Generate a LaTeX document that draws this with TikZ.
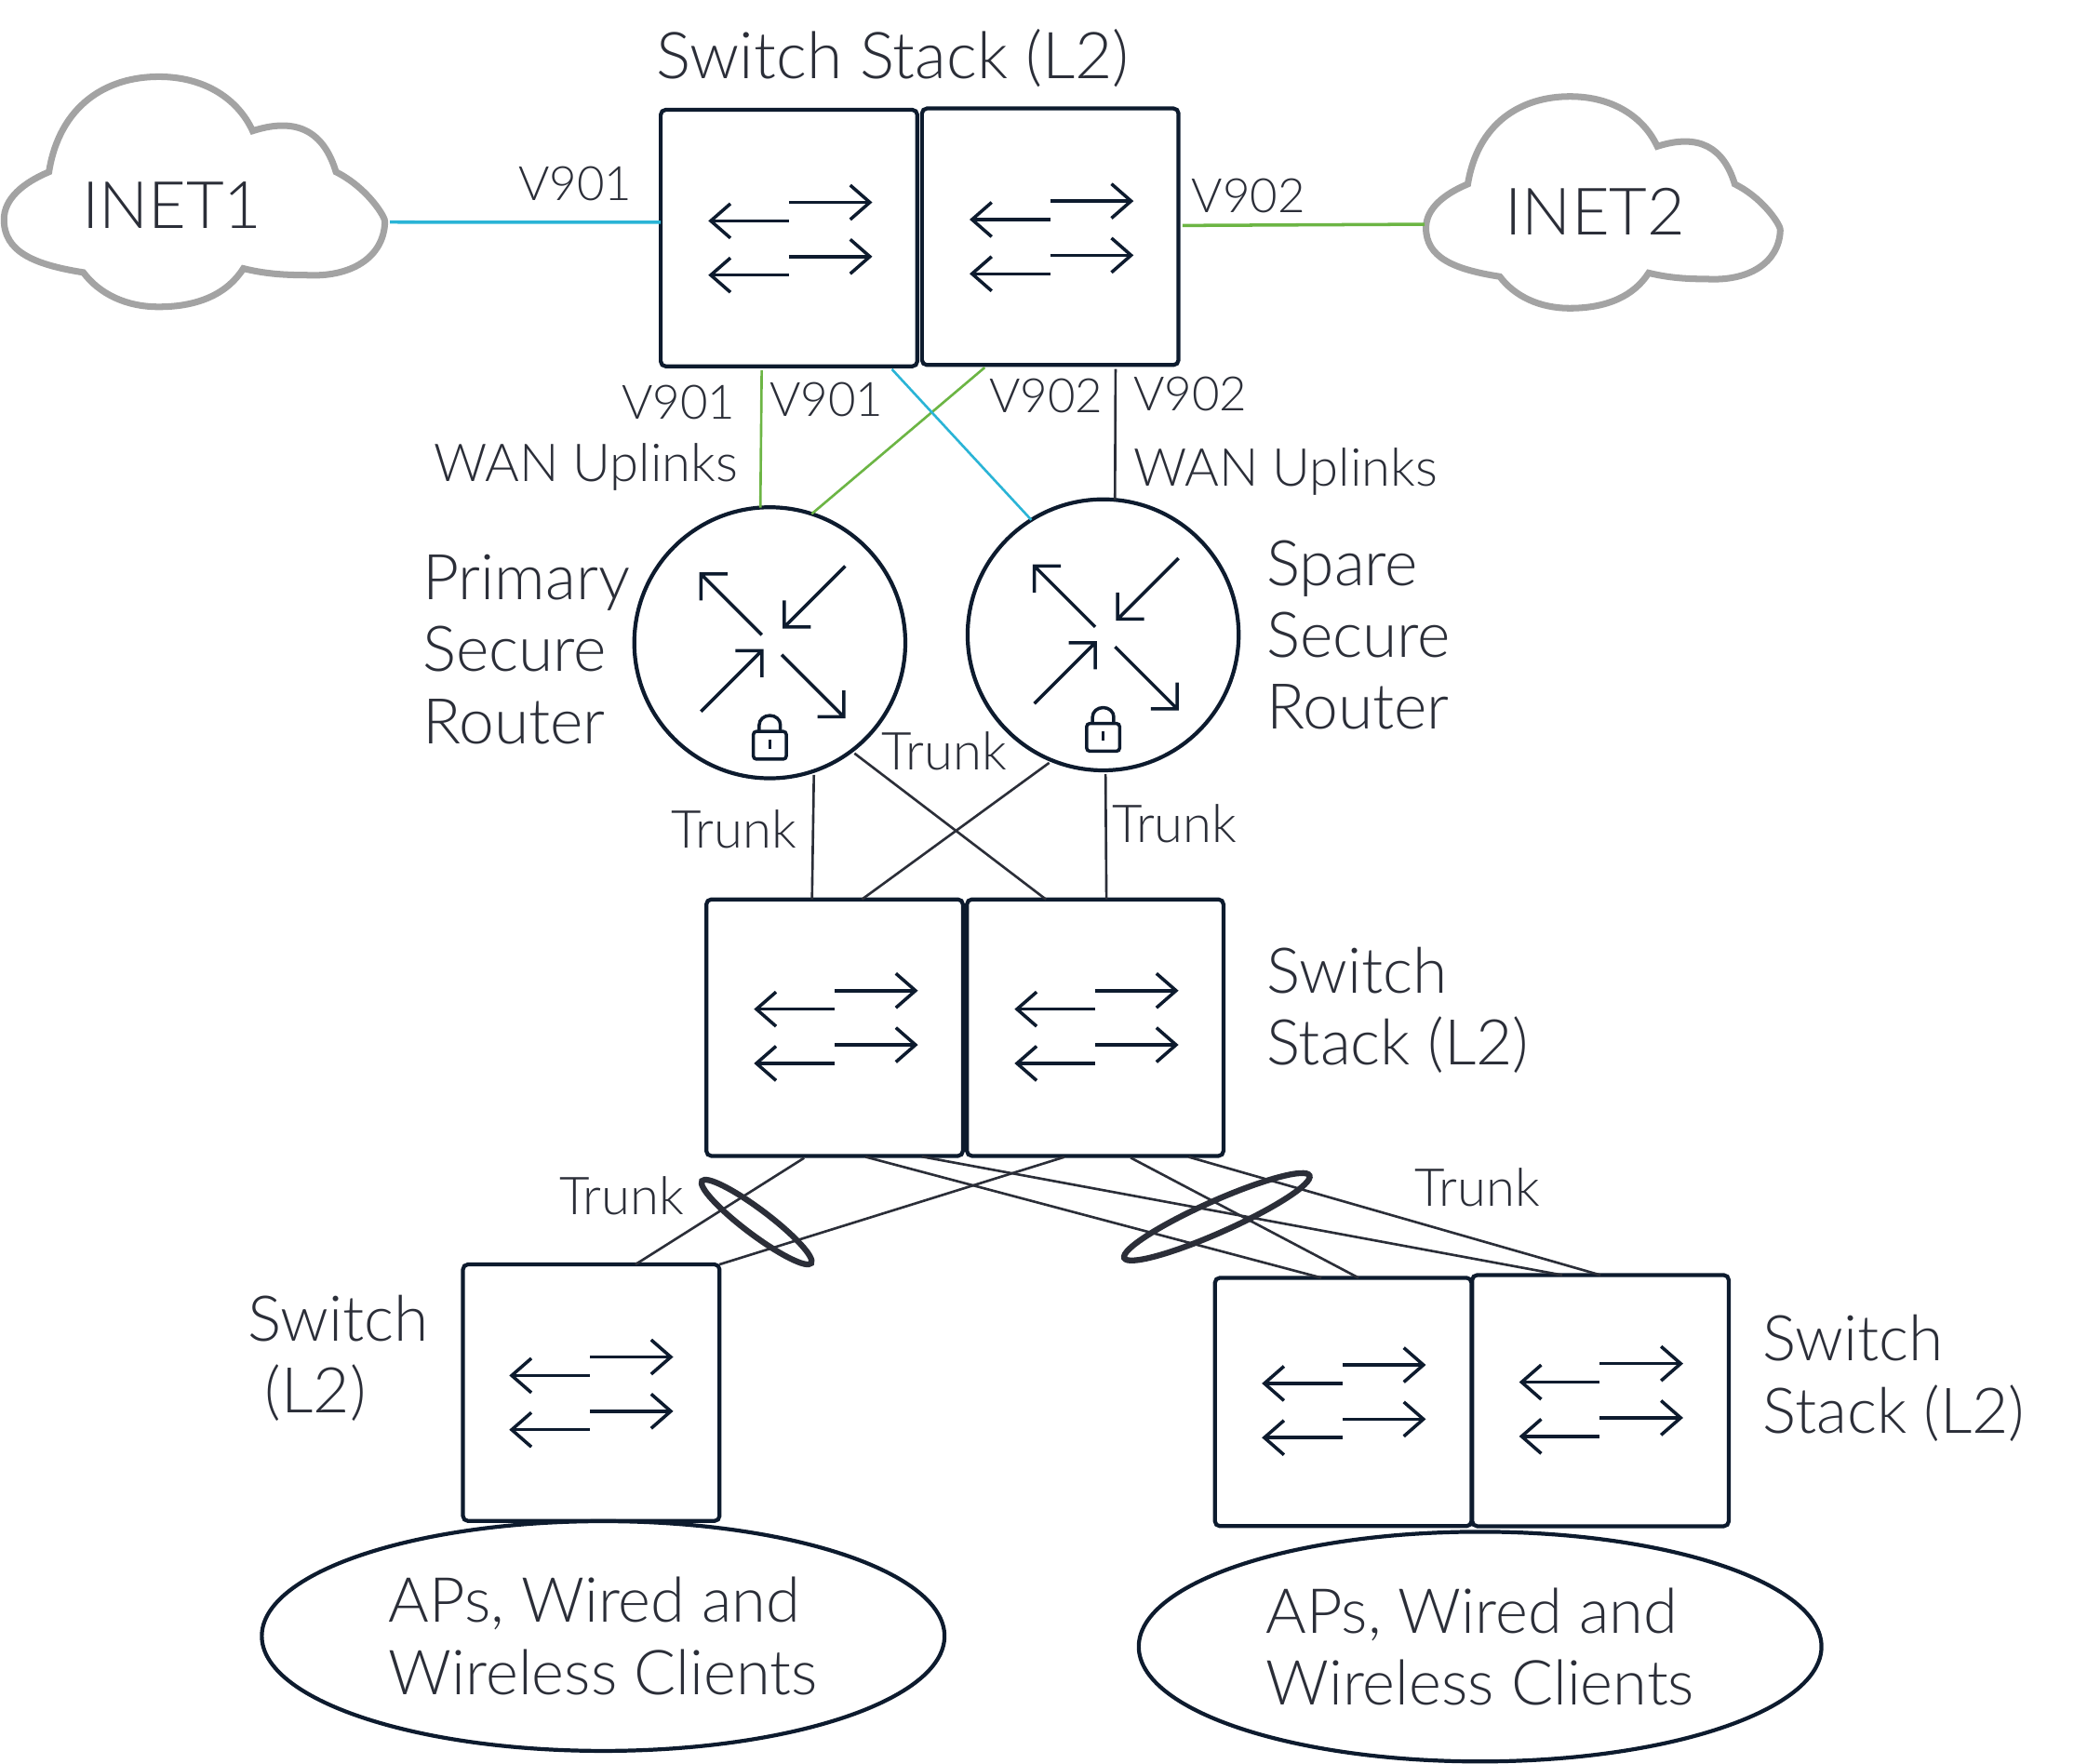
\documentclass[tikz,border=0pt]{standalone}
\usepackage{fontspec}
\setmainfont{Lato}[UprightFont=* Light]
\usetikzlibrary{arrows.meta,shapes.geometric}
\definecolor{navy}{HTML}{0D1B2E}
\definecolor{inkgrey}{HTML}{2B2E38}
\definecolor{linkblue}{HTML}{2AB4D6}
\definecolor{linkgreen}{HTML}{6CB544}
\definecolor{cloudgrey}{HTML}{A3A3A3}
\tikzset{
    swbox/.style={draw=navy, line width=1.2pt, rounded corners=1.5pt, minimum size=2.758cm, inner sep=0pt, outer sep=0pt},
    rtbox/.style={circle, draw=navy, line width=1.2pt, minimum size=2.914cm, inner sep=0pt, outer sep=0pt},
    cltbox/.style={ellipse, draw=navy, line width=1.2pt, minimum width=7.34cm, minimum height=2.47cm, inner sep=0pt, outer sep=0pt, align=left, text=inkgrey, font=\fontsize{19}{22}\selectfont},
    cloudbox/.style={inner sep=0pt, outer sep=0pt, minimum width=4.12cm, minimum height=2.49cm},
    bundle/.style={ellipse, draw=inkgrey, line width=1.8pt, inner sep=0pt},
    lab/.style={inner sep=0pt, text=inkgrey, align=left, font=\fontsize{19.3}{22}\selectfont},
    toplabel/.style={inner sep=0pt, text=inkgrey, font=\fontsize{19.8}{23}\selectfont},
    smlab/.style={inner sep=0pt, text=inkgrey, font=\fontsize{16}{19}\selectfont},
    vlan/.style={inner sep=0pt, text=inkgrey, font=\fontsize{14.5}{17}\selectfont},
    biglab/.style={inner sep=0pt, text=inkgrey, font=\fontsize{20}{24}\selectfont},
    lnk/.style={line width=0.75pt, draw=inkgrey, shorten <=1.2pt},
    bluelnk/.style={lnk, draw=linkblue},
    greenlnk/.style={lnk, draw=linkgreen},
    swicon/.pic={
        \draw[->, navy, line width=1pt] (0,-27) -- (63,-27);
        \draw[->, navy, line width=1pt] (0,14) -- (63,14);
        \draw[->, navy, line width=1pt] (0,-13) -- (-61,-13);
        \draw[->, navy, line width=1pt] (0,28) -- (-61,28);
    },
    rticon/.pic={
        \draw[navy, line width=1pt] (-6,-6) -- (-52,-52) (-32,-52) -- (-52,-52) -- (-52,-32);
        \draw[navy, line width=1pt] (57,-58) -- (11,-12) (31,-12) -- (11,-12) -- (11,-32);
        \draw[navy, line width=1pt] (-52,52) -- (-6,6) (-26,6) -- (-6,6) -- (-6,26);
        \draw[navy, line width=1pt] (9,9) -- (56,56) (36,56) -- (56,56) -- (56,36);
        \draw[navy, line width=1pt, rounded corners=1pt] (-12.5,67) rectangle (12.5,88);
        \draw[navy, line width=1pt] (-8,67) -- (-8,62) arc[start angle=180, end angle=360, x radius=8, y radius=7] -- (8,67);
        \draw[navy, line width=1pt] (0,73) -- (0,80);
    },
    cloudpic/.pic={
        \draw[cloudgrey, line width=2pt] (-110,-15) .. controls (-102,-65) and (-67,-87) .. (-27,-87)
            .. controls (8,-87) and (33,-70) .. (44,-46) .. controls (78,-57) and (98,-45) .. (107,-15)
            .. controls (131,-3) and (145,20) .. (144,23) .. controls (143,50) and (118,65) .. (84,63)
            .. controls (68,63) and (53,62) .. (37,58) .. controls (25,77) and (3,87) .. (-27,87)
            .. controls (-52,87) and (-72,77) .. (-84,61) .. controls (-122,55) and (-144,45) .. (-144,21)
            .. controls (-144,5) and (-129,-7) .. (-110,-15) -- cycle;
    }
}
\begin{document}
\begin{tikzpicture}[x=0.014216cm, y=-0.014216cm, >={Straight Barb[length=6pt,width=10.5pt]}]
    \useasboundingbox (0,0) rectangle (1568,1333.7);
    % clouds
    \node[cloudbox] (cloud1) at (147,145) {};
    \pic at (147,145) {cloudpic};
    \node[biglab] (inet1) at (130,155) {INET1};
    \node[cloudbox, minimum width=3.84cm, minimum height=2.29cm] (cloud2) at (1212,153) {};
    \pic[xscale=0.93, yscale=0.92] at (1212,153) {cloudpic};
    \node[biglab] (inet2) at (1206,160) {INET2};
    % top stack
    \node[swbox] (topa) at (596.5,180) {};
    \node[swbox] (topb) at (794,179) {};
    \pic at (596.5,180) {swicon};
    \pic at (794,179) {swicon};
    \node[toplabel] (toplab) at (675,44) {Switch Stack (L2)};
    % routers
    \node[rtbox] (rtra) at (582,486) {};
    \node[rtbox] (rtrb) at (834,480) {};
    \pic at (582,486) {rticon};
    \pic at (834,480) {rticon};
    \node[lab, anchor=west] (rtralab) at (319,491) {Primary\\Secure\\Router};
    \node[lab, anchor=west] (rtrblab) at (957,480) {Spare\\Secure\\Router};
    % middle stack
    \node[swbox] (mida) at (631,777) {};
    \node[swbox] (midb) at (828,777) {};
    \pic at (631,776) {swicon};
    \pic at (828,776) {swicon};
    \node[lab, anchor=west] (midlab) at (957,764) {Switch\\Stack (L2)};
    % access switches
    \node[swbox] (acc) at (447,1053) {};
    \pic at (446,1053) {swicon};
    \node[lab, anchor=west] (acclab) at (187,1027) {Switch\\\ (L2)};
    \node[swbox, minimum height=2.67cm] (lowa) at (1015.5,1060) {};
    \node[swbox, minimum height=2.70cm] (lowb) at (1210,1059) {};
    \pic at (1015,1059) {swicon};
    \pic at (1209.5,1058) {swicon};
    \node[lab, anchor=west] (lowlab) at (1332,1042) {Switch\\Stack (L2)};
    % clients
    \node[cltbox] (clta) at (456,1237) {APs, Wired and\\Wireless Clients};
    \node[cltbox] (cltb) at (1119,1245) {APs, Wired and\\Wireless Clients};
    % links
    \draw[bluelnk, line width=1pt] (cloud1.-9) -- (topa.173);
    \draw[greenlnk, line width=1pt] (topb.5.3) -- (cloud2.187.2);
    \draw[greenlnk] (topa.-102.5) -- (rtra.94);
    \draw[greenlnk] (topb.-116.3) -- (rtra.72.6);
    \draw[bluelnk] (topa.-52.1) -- (rtrb.122.2);
    \draw[lnk] (topb.-63.7) -- (rtrb.85.5);
    \draw[lnk] (rtra.-71.2) -- (mida.100);
    \draw[lnk] (rtrb.-89.5) -- (midb.85.9);
    \draw[lnk] (rtra.-53.4) -- (midb.111.4);
    \draw[lnk] (rtrb.-112.1) -- (mida.78.3);
    \draw[lnk] (mida.-102.2) -- (acc.71.2);
    \draw[lnk] (midb.-102.8) -- (acc.45);
    \draw[lnk] (mida.-78.3) -- (lowa.100.5);
    \draw[lnk] (mida.-57) -- (lowb.107.5);
    \draw[lnk] (midb.-76.1) -- (lowa.83);
    \draw[lnk] (midb.-55) -- (lowb.90);
    % link bundles
    \node[bundle, minimum width=1.47cm, minimum height=0.27cm, rotate=-37] (bunda) at (572,924) {};
    \node[bundle, minimum width=2.18cm, minimum height=0.34cm, rotate=24] (bundb) at (920,920) {};
    % link labels
    \node[vlan] (va) at (435,139) {V901};
    \node[vlan] (vb) at (944,148) {V902};
    \node[vlan] (vc) at (513,304) {V901};
    \node[vlan] (vd) at (625,302) {V901};
    \node[vlan] (ve) at (791,299) {V902};
    \node[vlan] (vf) at (900,298) {V902};
    \node[smlab] (wana) at (443,353) {WAN Uplinks};
    \node[smlab] (wanb) at (972,357) {WAN Uplinks};
    \node[smlab] (trka) at (714,568) {Trunk};
    \node[smlab] (trkb) at (555,627) {Trunk};
    \node[smlab] (trkc) at (888,623) {Trunk};
    \node[smlab] (trkd) at (470,904) {Trunk};
    \node[smlab] (trke) at (1117,898) {Trunk};
\end{tikzpicture}
\end{document}
